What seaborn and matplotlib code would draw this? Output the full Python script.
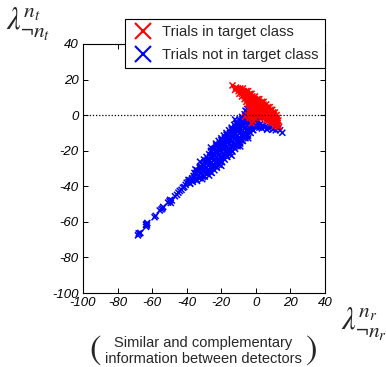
import matplotlib
matplotlib.use('Agg')
import matplotlib.pyplot as plt
from matplotlib.lines import Line2D
import pandas as pd
import seaborn as sns

# style: matlab-like box with inward ticks
sns.set_style('ticks', {'xtick.direction': 'in', 'ytick.direction': 'in'})
plt.rcParams['font.family'] = ['Liberation Sans', 'DejaVu Sans']
plt.rcParams['mathtext.fontset'] = 'stix'
plt.rcParams['axes.unicode_minus'] = False

# data (x, y)
# blue: trials not in target class
blue_tail = [(-68.2, -67.6), (-67.5, -66.8), (-66.8, -66.2), (-67.8, -66.5),
             (-63.5, -62.8), (-63.0, -62.0), (-63.2, -61.2), (-62.8, -60.6), (-63.6, -61.6),
             (-58.6, -57.4), (-58.0, -56.6), (-55.6, -53.6), (-54.6, -53.0), (-53.6, -51.6),
             (-54.0, -52.4), (-50.8, -49.2), (-50.0, -48.4), (-49.2, -49.4), (-48.6, -48.0),
             (-49.6, -47.6), (-46.8, -45.6), (-45.6, -44.8), (-44.8, -43.6), (-44.0, -42.6),
             (-43.0, -42.0), (-42.2, -40.8), (-41.4, -40.4), (-40.6, -39.2), (-40.0, -38.0),
             (-39.0, -37.6), (-38.4, -36.6), (-37.4, -36.8), (-36.8, -35.4), (-38.0, -38.4),
             (-36.0, -34.2), (-34.4, -36.4)]

blue_band = [
    (-23, -16), (-21.5, -14.5), (-20, -13), (-18.5, -11.5), (-17, -10), (-15.5, -8.5),
    (-14, -7), (-12.5, -5.5), (-11, -4), (-9.5, -2.5), (-8, -1), (-6.5, 0.5), (-5, 2),
    (-30, -25), (-28.5, -23.5), (-27, -22), (-25.5, -20.5), (-24, -19), (-22.5, -17.5),
    (-21, -16), (-19.5, -14.5), (-18, -13), (-16.5, -11.5), (-15, -10), (-13.5, -8.5),
    (-12, -7), (-10.5, -5.5), (-9, -4), (-7.5, -2.5), (-6, -1), (-4.5, 0.5),
    (-35.5, -32.5), (-34, -31), (-32.5, -29.5), (-31, -28), (-29.5, -26.5), (-28, -25),
    (-26.5, -23.5), (-25, -22), (-23.5, -20.5), (-22, -19), (-20.5, -17.5), (-19, -16),
    (-17.5, -14.5), (-16, -13), (-14.5, -11.5), (-13, -10), (-11.5, -8.5), (-10, -7),
    (-8.5, -5.5), (-7, -4), (-5.5, -2.5), (-4, -1), (-2.5, 0.5),
    (-37, -36), (-35.5, -34.5), (-34, -33), (-32.5, -31.5), (-31, -30), (-29.5, -28.5),
    (-28, -27), (-26.5, -25.5), (-25, -24), (-23.5, -22.5), (-22, -21), (-20.5, -19.5),
    (-19, -18), (-17.5, -16.5), (-16, -15), (-14.5, -13.5), (-13, -12), (-11.5, -10.5),
    (-10, -9), (-8.5, -7.5), (-7, -6), (-5.5, -4.5), (-4, -3), (-2.5, -1.5), (-1, 0),
    (-36.5, -37.5), (-35, -36), (-33.5, -34.5), (-32, -33), (-30.5, -31.5), (-29, -30),
    (-27.5, -28.5), (-26, -27), (-24.5, -25.5), (-23, -24), (-21.5, -22.5), (-20, -21),
    (-18.5, -19.5), (-17, -18), (-15.5, -16.5), (-14, -15), (-12.5, -13.5), (-11, -12),
    (-9.5, -10.5), (-8, -9), (-6.5, -7.5), (-5, -6), (-3.5, -4.5), (-2, -3), (-0.5, -1.5),
    (-34, -37), (-32.5, -35.5), (-31, -34), (-29.5, -32.5), (-28, -31), (-26.5, -29.5),
    (-25, -28), (-23.5, -26.5), (-22, -25), (-20.5, -23.5), (-19, -22), (-17.5, -20.5),
    (-16, -19), (-14.5, -17.5), (-13, -16), (-11.5, -14.5), (-10, -13), (-8.5, -11.5),
    (-7, -10), (-5.5, -8.5), (-4, -7), (-2.5, -5.5), (-1, -4), (0.5, -2.5), (2, -1),
    (-31, -36), (-29.5, -34.5), (-28, -33), (-26.5, -31.5), (-25, -30), (-23.5, -28.5),
    (-22, -27), (-20.5, -25.5), (-19, -24), (-17.5, -22.5), (-16, -21), (-14.5, -19.5),
    (-13, -18), (-11.5, -16.5), (-10, -15), (-8.5, -13.5), (-7, -12), (-5.5, -10.5),
    (-4, -9), (-2.5, -7.5), (-1, -6), (0.5, -4.5),
    (-27, -34), (-25.5, -32.5), (-24, -31), (-22.5, -29.5), (-21, -28), (-19.5, -26.5),
    (-18, -25), (-16.5, -23.5), (-15, -22), (-13.5, -20.5), (-12, -19), (-10.5, -17.5),
    (-9, -16), (-7.5, -14.5), (-6, -13), (-4.5, -11.5), (-3, -10), (-1.5, -8.5),
]

# extra points between the rows, where the band is solid
blue_fill = [
    (-26, -20), (-23, -17), (-20, -14), (-17, -11), (-14, -8), (-11, -5), (-8, -2.2),
    (-32, -28.6), (-29, -25.6), (-26, -22.6), (-23, -19.6), (-20, -16.6), (-17, -13.6),
    (-14, -10.6), (-11, -7.6), (-8, -4.6), (-5, -1.6),
    (-34.5, -32.6), (-31.5, -29.6), (-28.5, -26.6), (-25.5, -23.6), (-22.5, -20.6),
    (-19.5, -17.6), (-16.5, -14.6), (-13.5, -11.6), (-10.5, -8.6), (-7.5, -5.6),
    (-4.5, -2.6), (-1.5, -0.6),
    (-33, -33.8), (-30, -30.8), (-27, -27.8), (-24, -24.8), (-21, -21.8), (-18, -18.8),
    (-15, -15.8), (-12, -12.8), (-9, -9.8), (-6, -6.8), (-3, -3.8), (0, -0.8),
    (-30.5, -34.8), (-27.5, -31.8), (-24.5, -28.8), (-21.5, -25.8), (-18.5, -22.8),
    (-15.5, -19.8), (-12.5, -16.8), (-9.5, -13.8), (-6.5, -10.8), (-3.5, -7.8),
    (-0.5, -4.8), (1.5, -3.2),
    (-26, -32.2), (-23, -29.2), (-20, -26.2), (-17, -23.2), (-14, -20.2), (-11, -17.2),
    (-8, -14.2), (-5, -11.2), (-2, -8.2),
]

blue_stray = [(-32.3, -26.2), (-35, -30.5), (-20, -28.5), (-14, -22.8), (-9, -17.6),
              (-4.4, -13), (-26, -18.2), (-12, -2.5), (-38, -38.6), (-39, -36.4),
              (-5, 3.5), (-4, 4), (-6, 2.5),
              (1, -5.5), (2.5, -5), (4, -6), (5.5, -6.5), (7, -7), (8.5, -7), (10, -8),
              (11.5, -8.5), (13, -7.5), (14, -8.5), (15.3, -9.9), (2, -7), (0.5, -7),
              (3.5, -7.5), (6.5, -8.2)]

# red: trials in target class
red_band = [
    (-10.5, 15), (-9, 15), (-7.5, 15),
    (-10, 13.5), (-8.5, 13.5), (-7, 13.5), (-5.5, 13.5), (-4.5, 13.5),
    (-9.5, 12), (-8, 12), (-6.5, 12), (-5, 12), (-3.5, 12), (-2.5, 12),
    (-8, 10.5), (-6.5, 10.5), (-5, 10.5), (-3.5, 10.5), (-2, 10.5), (-0.5, 10.5),
    (-6.5, 9), (-5, 9), (-3.5, 9), (-2, 9), (-0.5, 9), (1, 9), (2, 9),
    (-5.5, 7.5), (-4, 7.5), (-2.5, 7.5), (-1, 7.5), (0.5, 7.5), (2, 7.5), (3.5, 7.5), (4.5, 7.5),
    (-4.5, 6), (-3, 6), (-1.5, 6), (0, 6), (1.5, 6), (3, 6), (4.5, 6), (6, 6),
    (-3.5, 4.5), (-2, 4.5), (-0.5, 4.5), (1, 4.5), (2.5, 4.5), (4, 4.5), (5.5, 4.5), (7, 4.5), (8, 4.5),
    (-3.5, 3), (-2, 3), (-0.5, 3), (1, 3), (2.5, 3), (4, 3), (5.5, 3), (7, 3), (8.5, 3), (9.5, 3),
    (-3.5, 1.5), (-2, 1.5), (-0.5, 1.5), (1, 1.5), (2.5, 1.5), (4, 1.5), (5.5, 1.5), (7, 1.5),
    (8.5, 1.5), (10, 1.5), (11, 1.5),
    (-4.5, 0), (-3, 0), (-1.5, 0), (0, 0), (1.5, 0), (3, 0), (4.5, 0), (6, 0), (7.5, 0),
    (9, 0), (10.5, 0), (12, 0),
    (-3.5, -1.5), (-2, -1.5), (-0.5, -1.5), (1, -1), (3.5, -1.5), (5, -1.5), (6.5, -1.5),
    (8, -1.5), (9.5, -1.5), (11, -1.5), (12.5, -1.5),
    (6, -3), (7.5, -3), (9, -3), (10.5, -3), (12, -3), (13, -3),
    (8.5, -4.5), (10, -4.5), (11.5, -4.5), (12.5, -4.5),
    (11, -6), (12.5, -6),
]

red_stray = [(-13.5, 16.7), (-12, 14.2), (-11.5, 15.5), (-6.3, -0.9), (-2.4, -4.6),
             (-1.5, -3.2), (13.5, -6.5)]

label_in = 'Trials in target class'
label_out = 'Trials not in target class'
ticks = [-100, -80, -60, -40, -20, 0, 20, 40]

# build one table, blue first so red sits on top
blue_pts = blue_tail + blue_band + blue_fill + blue_stray
red_pts = red_band + red_stray
df = pd.DataFrame(blue_pts + red_pts, columns=['x', 'y'])
df['cls'] = [label_out] * len(blue_pts) + [label_in] * len(red_pts)

fig = plt.figure(figsize=(3.86, 3.67), dpi=100)
ax = fig.add_axes([83 / 386, 74 / 367, 242 / 386, 249 / 367])

sns.scatterplot(data=df, x='x', y='y', hue='cls',
                palette={label_in: '#ff0000', label_out: '#0000ff'},
                marker='x', s=19, linewidth=1.1, legend=False, ax=ax)

ax.axhline(0, color='k', ls=(0, (1, 1.5)), lw=0.9, zorder=1)

ax.set_xlim(-100, 40)
ax.set_ylim(-100, 40)
ax.set_xticks(ticks)
ax.set_yticks(ticks)
ax.set_xlabel('')
ax.set_ylabel('')
ax.tick_params(top=True, right=True, length=3.5, width=0.7, labelsize=9.5, pad=3,
               colors='k')
for lab in ax.get_xticklabels() + ax.get_yticklabels():
    lab.set_fontstyle('italic')
for sp in ax.spines.values():
    sp.set_visible(True)
    sp.set_linewidth(0.8)
    sp.set_color('k')

# legend box overlapping the top of the axes
handles = [Line2D([], [], ls='none', marker='x', color='#ff0000', markersize=11,
                  mew=1.5, label=label_in),
           Line2D([], [], ls='none', marker='x', color='#0000ff', markersize=11,
                  mew=1.5, label=label_out)]
leg = ax.legend(handles=handles, loc='upper right',
                bbox_to_anchor=(1.0, (293 - 19) / 249), borderaxespad=0,
                frameon=True, fancybox=False, edgecolor='k', framealpha=1,
                fontsize=10.6, handlelength=1.6, handletextpad=0.5,
                borderpad=0.42, labelspacing=0.58)
leg.get_frame().set_linewidth(0.8)

# axis labels as greek math text
fig.text(6 / 386, 1 - 24 / 367, r'$\lambda^{n_t}_{\neg n_t}$', fontsize=22,
         ha='left', va='center')
fig.text(341 / 386, 1 - 324 / 367, r'$\lambda^{n_r}_{\neg n_r}$', fontsize=22,
         ha='left', va='center')

# bracketed caption under the x axis
fig.text(203 / 386, 1 - 351 / 367,
         'Similar and complementary\ninformation between detectors',
         ha='center', va='center', fontsize=10.5, linespacing=1.15)
fig.text(95 / 386, 1 - 350 / 367, r'$($', fontsize=25, ha='center', va='center')
fig.text(311 / 386, 1 - 350 / 367, r'$)$', fontsize=25, ha='center', va='center')

fig.savefig('out.png', dpi=100)
